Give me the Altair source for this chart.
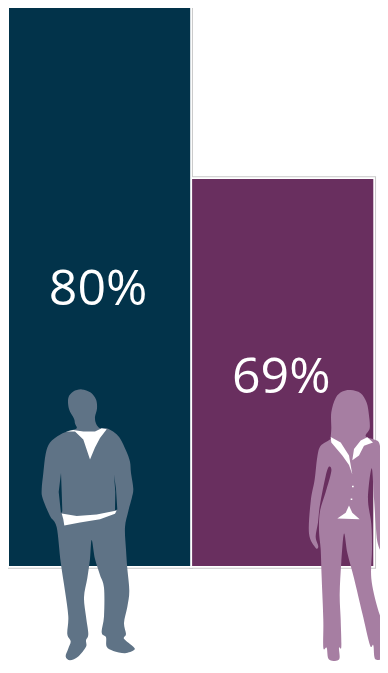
import altair as alt
import pandas as pd

groups = ["Men", "Women"]
bar_heights = [100, 69]
labels = ["80%", "69%"]
label_heights = [46.6, 30.9]
bar_colors = ["#02334a", "#692f5f"]

MAN = [(245,58),(272,68),(288,90),(291,118),(285,145),(288,165),(300,180),(320,180),(345,195),(362,215),(378,250),(390,285),(393,320),(400,370),(395,400),(385,440),(375,490),(378,560),(382,620),(388,690),(382,740),(372,790),(378,825),(372,840),(400,865),(402,875),(375,885),(340,878),(320,865),(318,835),(305,820),(312,770),(312,680),(300,640),(285,590),(275,530),(270,590),(262,650),(252,710),(258,770),(265,825),(258,845),(258,865),(235,895),(210,907),(197,895),(205,870),(212,848),(202,825),(205,770),(195,690),(182,600),(170,490),(150,455),(128,400),(125,370),(130,320),(137,260),(150,225),(180,200),(210,188),(230,180),(225,165),(222,150),(207,120),(205,85),(220,65)]
MAN_SLITS = [[(342,325),(348,370),(352,435),(345,437),(346,380)],[(183,320),(176,380),(183,447),(187,440),(185,380)]]
MAN_WHITE = [[(197,190),(225,190),(250,215),(270,278),(285,240),(300,210),(320,183),(305,180),(285,190),(250,190),(220,185)],[(185,447),(230,455),(290,450),(350,438),(345,448),(300,465),(240,475),(193,485),(190,465)]]

WOMAN = [(470,60),(500,70),(518,100),(525,140),(527,180),(515,205),(540,215),(555,225),(562,265),(570,340),(582,425),(590,500),(592,520),(582,545),(570,570),(560,565),(550,535),(545,480),(540,400),(533,305),(522,400),(532,480),(534,560),(532,650),(550,740),(570,800),(582,840),(582,890),(545,905),(538,860),(528,860),(505,760),(480,650),(460,570),(450,510),(442,600),(437,700),(440,780),(442,865),(435,868),(435,905),(405,905),(398,868),(388,868),(388,780),(383,650),(380,560),(375,500),(378,440),(395,380),(412,315),(405,300),(395,330),(378,420),(372,475),(365,520),(373,550),(365,555),(345,510),(350,410),(362,340),(370,270),(380,235),(408,215),(410,205),(412,180),(412,130),(425,85),(445,65)]
WOMAN_WHITE = [[(410,207),(440,225),(465,265),(475,325),(465,295),(445,265),(412,225)],[(475,280),(480,245),(500,218),(520,208),(537,225),(510,235),(495,265)],[(465,422),(475,445),(497,465),(430,463),(455,445)],[(474,360),(479,360),(479,365),(474,365)],[(470,400),(475,400),(475,405),(470,405)]]

SQUASH = 0.957


def to_chart(poly, ox):
    return [(ox + a / 3 - 8, 390 + (370 + b / 3 - 390) * SQUASH - 8) for a, b in poly]


def shape(polys, ox, smooth=False):
    parts = []
    for poly in polys:
        p = to_chart(poly, ox)
        n = len(p)
        d = f"M{p[0][0]:.1f},{p[0][1]:.1f}"
        for i in range(n):
            p0, p1, p2, p3 = p[i - 1], p[i], p[(i + 1) % n], p[(i + 2) % n]
            if smooth:
                c1 = (p1[0] + (p2[0] - p0[0]) / 6, p1[1] + (p2[1] - p0[1]) / 6)
                c2 = (p2[0] - (p3[0] - p1[0]) / 6, p2[1] - (p3[1] - p1[1]) / 6)
                d += f"C{c1[0]:.1f},{c1[1]:.1f},{c2[0]:.1f},{c2[1]:.1f},{p2[0]:.1f},{p2[1]:.1f}"
            else:
                d += f"L{p2[0]:.1f},{p2[1]:.1f}"
        parts.append(d + "Z")
    return "".join(parts)


df = pd.DataFrame({"group": groups, "height": bar_heights, "label": labels, "label_height": label_heights})
xscale = alt.Scale(domain=groups, range=[1, 365.3], paddingInner=0.0105, paddingOuter=0)
yscale = alt.Scale(domain=[0, 100], range=[558, -2.7])
x = alt.X("group:N", axis=None, scale=xscale)
y = alt.Y("height:Q", axis=None, scale=yscale)
color = alt.Color("group:N", legend=None, scale=alt.Scale(domain=groups, range=bar_colors))

base = alt.Chart(df)
grey = base.mark_bar(fill="white", stroke="#c8c8c8", strokeWidth=5.5).encode(x=x, y=y)
white = base.mark_bar(fill="white", stroke="white", strokeWidth=3.5).encode(x=x, y=y)
bars = base.mark_bar(strokeWidth=0).encode(x=x, y=y, color=color)
text = base.mark_text(font="Open Sans", fontSize=50, color="white", dx=-1.5, baseline="alphabetic").encode(
    x=x,
    y=alt.Y("label_height:Q", axis=None, scale=yscale),
    text="label:N",
)


def figure(polys, ox, col, smooth=False):
    return alt.Chart(pd.DataFrame({"a": [0]})).mark_point(
        shape=shape(polys, ox, smooth), size=4, filled=True, fill=col, opacity=1, strokeWidth=0
    ).encode(x=alt.value(0), y=alt.value(0))


chart = alt.layer(
    grey, white, bars, text,
    figure([MAN], 0, "#5f7386", True),
    figure(MAN_SLITS, 0, "#02334a"),
    figure(MAN_WHITE, 0, "#ffffff"),
    figure([WOMAN], 194, "#a67ea2", True),
    figure(WOMAN_WHITE, 194, "#ffffff"),
).properties(
    width=372, height=653, padding=0, autosize=alt.AutoSizeParams(type="none"), background="white"
).configure_view(stroke=None)

chart.save("out.html", embed_options={"renderer": "svg", "actions": False})
